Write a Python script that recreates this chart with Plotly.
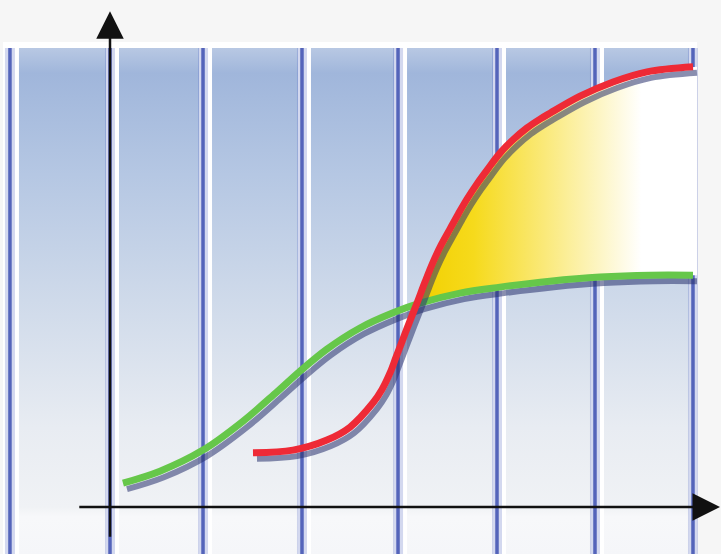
import plotly.graph_objects as go

# Data (x in periods, y in percent of panel height)
green_x = [0.133, 0.512, 0.953, 1.363, 1.711, 1.947, 2.223, 2.561, 2.900, 3.176, 3.586, 3.996,
           4.508, 5.020, 5.533, 5.973]
green_y = [5.2, 7.8, 12.4, 18.7, 25.1, 29.6, 34.4, 39.0, 42.3, 44.4, 46.6, 47.9,
           49.2, 50.1, 50.5, 50.5]

red_x = [1.465, 1.875, 2.223, 2.459, 2.695, 2.787, 2.869, 2.930, 3.002, 3.074, 3.145, 3.227,
         3.309, 3.396, 3.484, 3.570, 3.658, 3.760, 3.863, 3.996, 4.129, 4.273, 4.406, 4.508,
         4.816, 5.154, 5.502, 5.973]
red_y = [11.8, 12.4, 14.6, 17.4, 22.7, 25.6, 29.2, 32.6, 36.6, 40.6, 44.4, 49.0,
         53.3, 57.2, 60.6, 63.9, 67.1, 70.4, 73.4, 77.1, 80.0, 82.6, 84.5, 85.8,
         89.5, 92.6, 94.8, 95.9]

period_edges = [-1.025, 0.0, 0.953, 1.967, 2.951, 3.965, 4.969, 5.973]
cross_x = 3.156
cross_y = 44.5
panel_right = 6.014

X_RANGE = [-1.127, 6.26]
Y_RANGE = [-10.24, 110.46]
px_x = (X_RANGE[1] - X_RANGE[0]) / 721.0
px_y = (Y_RANGE[1] - Y_RANGE[0]) / 554.0

fig = go.Figure()

# panel background
fig.add_trace(go.Scatter(x=[-1.096, panel_right, panel_right, -1.096, -1.096],
                         y=[-10.3, -10.3, 101.3, 101.3, -10.3],
                         mode="lines", line=dict(width=0), fill="toself",
                         fillcolor="white", hoverinfo="skip"))

# columns
ybot, ytop = -10.3, 100.0
z0 = (0 - ybot) / (ytop - ybot)
col_scale = [[0, "#f5f6f9"], [z0 * 0.8, "#f7f8fa"], [z0, "#f0f2f5"],
             [0.25, "#e8ecf2"], [0.5, "#cfdaea"], [0.75, "#b5c7e3"],
             [0.95, "#a0b6db"], [1, "#b8c8e3"]]
for i in range(len(period_edges) - 1):
    l = period_edges[i] + 9 * px_x
    r = period_edges[i + 1] - 4 * px_x
    fig.add_trace(go.Scatter(x=[l, r, r, l, l], y=[ybot, ybot, ytop, ytop, ybot],
                             mode="lines", line=dict(width=0), fill="toself",
                             fillgradient=dict(type="vertical", colorscale=col_scale),
                             hoverinfo="skip"))

# column divider lines
for e in period_edges:
    fig.add_trace(go.Scatter(x=[e, e], y=[ybot, ytop], mode="lines",
                             line=dict(color="rgba(80,100,190,0.25)", width=10),
                             hoverinfo="skip"))
    fig.add_trace(go.Scatter(x=[e, e], y=[ybot, ytop], mode="lines",
                             line=dict(color="rgba(70,88,180,0.9)", width=3.5),
                             hoverinfo="skip"))

# yellow area between curves after crossing (extended to the panel edge)
ax_red = [cross_x] + [x for x in red_x if x > cross_x] + [panel_right]
ay_red = [cross_y] + [y for x, y in zip(red_x, red_y) if x > cross_x] + [red_y[-1]]
ax_gr = [panel_right] + [x for x in green_x if x > cross_x][::-1] + [cross_x]
ay_gr = [green_y[-1]] + [y for x, y in zip(green_x, green_y) if x > cross_x][::-1] + [cross_y]
fig.add_trace(go.Scatter(x=ax_red + ax_gr, y=ay_red + ay_gr, mode="lines",
                         line=dict(width=0), fill="toself",
                         fillgradient=dict(type="horizontal", start=cross_x, stop=panel_right,
                                           colorscale=[[0, "#f2d000"], [0.2, "#f6da1c"],
                                                       [0.45, "#fae978"], [0.66, "#fdf6c8"],
                                                       [0.8, "#ffffff"], [1, "#ffffff"]]),
                         hoverinfo="skip"))

sdx, sdy = 4 * px_x, -6 * px_y
shadow = "rgba(40,50,110,0.55)"
line_kw = dict(shape="spline", smoothing=1.0)
fig.add_trace(go.Scatter(x=[x + sdx for x in green_x], y=[y + sdy for y in green_y],
                         mode="lines", line=dict(color=shadow, width=6, **line_kw),
                         hoverinfo="skip"))
fig.add_trace(go.Scatter(x=green_x, y=green_y, mode="lines",
                         line=dict(color="#66c74a", width=7, **line_kw),
                         hoverinfo="skip"))
fig.add_trace(go.Scatter(x=[x + sdx for x in red_x], y=[y + sdy for y in red_y],
                         mode="lines", line=dict(color=shadow, width=6, **line_kw),
                         hoverinfo="skip"))
fig.add_trace(go.Scatter(x=red_x, y=red_y, mode="lines",
                         line=dict(color="#ee2a36", width=7, **line_kw),
                         hoverinfo="skip"))

# axes with arrows
fig.add_annotation(x=0, y=108.0, ax=0, ay=-6.8, xref="x", yref="y", axref="x", ayref="y",
                   text="", showarrow=True, arrowhead=2, arrowsize=2.2, arrowwidth=2.5,
                   arrowcolor="#111111")
fig.add_annotation(x=6.25, y=0, ax=-0.33, ay=0, xref="x", yref="y", axref="x", ayref="y",
                   text="", showarrow=True, arrowhead=2, arrowsize=2.2, arrowwidth=2.5,
                   arrowcolor="#111111")

fig.update_layout(width=721, height=554, autosize=False,
                  margin=dict(l=0, r=0, t=0, b=0),
                  paper_bgcolor="#f6f6f6", plot_bgcolor="#f6f6f6",
                  showlegend=False,
                  xaxis=dict(range=X_RANGE, visible=False, fixedrange=True),
                  yaxis=dict(range=Y_RANGE, visible=False, fixedrange=True))

fig.write_html("out.html", config={"displayModeBar": False},
               post_script="document.body.style.margin='0';document.body.style.overflow='hidden';")
